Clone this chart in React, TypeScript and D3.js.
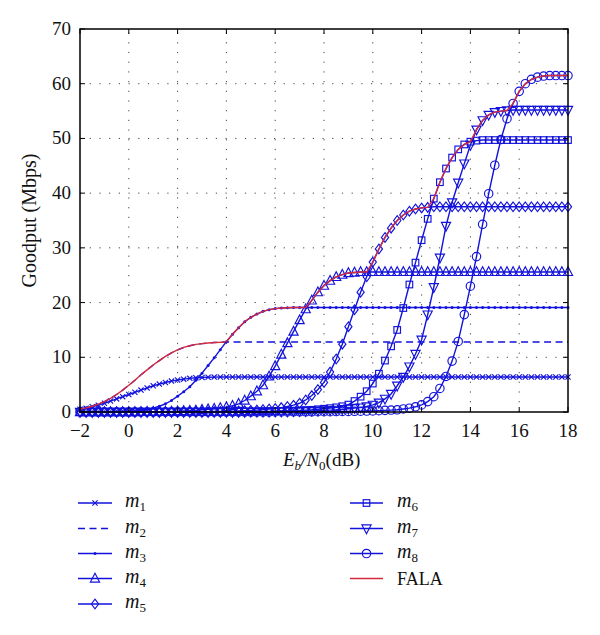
import React from "react";
import * as d3 from "d3";

// SNR grid (dB) shared by every series
const SNR_DB: number[] = d3.range(-2, 18.001, 0.25);

const X_TICKS = [-2, 0, 2, 4, 6, 8, 10, 12, 14, 16, 18];
const Y_TICKS = [0, 10, 20, 30, 40, 50, 60, 70];

const M1 = [
  0.5, 0.7, 0.95, 1.25,
  1.6, 2.0, 2.4, 2.8,
  3.2, 3.6, 4.0, 4.4,
  4.8, 5.1, 5.4, 5.65,
  5.85, 6.0, 6.15, 6.25,
  6.3, 6.35, 6.38, 6.4,
  6.4, 6.4, 6.4, 6.4, 6.4, 6.4, 6.4, 6.4, 6.4, 6.4, 6.4, 6.4, 6.4, 6.4, 6.4, 6.4,
  6.4, 6.4, 6.4, 6.4, 6.4, 6.4, 6.4, 6.4, 6.4, 6.4, 6.4, 6.4, 6.4, 6.4, 6.4, 6.4,
  6.4, 6.4, 6.4, 6.4, 6.4, 6.4, 6.4, 6.4, 6.4, 6.4, 6.4, 6.4, 6.4, 6.4, 6.4, 6.4,
  6.4, 6.4, 6.4, 6.4, 6.4, 6.4, 6.4, 6.4,
  6.4,
];

const M2 = [
  0.5, 0.75, 1.05, 1.45,
  1.9, 2.5, 3.2, 4.0,
  4.9, 5.8, 6.8, 7.7,
  8.6, 9.4, 10.15, 10.8,
  11.35, 11.8, 12.1, 12.35,
  12.5, 12.6, 12.7, 12.75,
  12.8, 12.8, 12.8, 12.8, 12.8, 12.8, 12.8, 12.8, 12.8, 12.8, 12.8, 12.8, 12.8, 12.8, 12.8, 12.8,
  12.8, 12.8, 12.8, 12.8, 12.8, 12.8, 12.8, 12.8, 12.8, 12.8, 12.8, 12.8, 12.8, 12.8, 12.8, 12.8,
  12.8, 12.8, 12.8, 12.8, 12.8, 12.8, 12.8, 12.8, 12.8, 12.8, 12.8, 12.8, 12.8, 12.8, 12.8, 12.8,
  12.8, 12.8, 12.8, 12.8, 12.8, 12.8, 12.8, 12.8,
  12.8,
];

const M3 = [
  0.05, 0.05, 0.05, 0.05,
  0.05, 0.05, 0.1, 0.1,
  0.15, 0.2, 0.3, 0.45,
  0.7, 1.05, 1.5, 2.1,
  2.9, 3.7, 4.6, 5.8,
  7.1, 8.5, 9.9, 11.4,
  12.85, 14.2, 15.4, 16.5,
  17.3, 17.9, 18.4, 18.7,
  18.9, 19.0, 19.05, 19.1,
  19.1, 19.1, 19.1, 19.1, 19.1, 19.1, 19.1, 19.1, 19.1, 19.1, 19.1, 19.1,
  19.1, 19.1, 19.1, 19.1, 19.1, 19.1, 19.1, 19.1, 19.1, 19.1, 19.1, 19.1,
  19.1, 19.1, 19.1, 19.1, 19.1, 19.1, 19.1, 19.1, 19.1, 19.1, 19.1, 19.1,
  19.1, 19.1, 19.1, 19.1, 19.1, 19.1, 19.1, 19.1,
  19.1,
];

const M4 = [
  0, 0, 0, 0,
  0, 0, 0, 0,
  0, 0, 0.02, 0.05,
  0.05, 0.05, 0.1, 0.1,
  0.15, 0.2, 0.25, 0.3,
  0.4, 0.5, 0.6, 0.75,
  0.9, 1.15, 1.5, 2.1,
  2.9, 3.8, 4.9, 6.5,
  8.4, 10.5, 12.6, 14.7,
  16.8, 18.8, 20.4, 21.9,
  23.1, 24.0, 24.7, 25.1,
  25.4, 25.5, 25.6, 25.6,
  25.6, 25.6, 25.6, 25.6, 25.6, 25.6, 25.6, 25.6,
  25.6, 25.6, 25.6, 25.6, 25.6, 25.6, 25.6, 25.6,
  25.6, 25.6, 25.6, 25.6, 25.6, 25.6, 25.6, 25.6,
  25.6, 25.6, 25.6, 25.6, 25.6, 25.6, 25.6, 25.6,
  25.6,
];

const M5 = [
  0, 0, 0, 0,
  0, 0, 0, 0,
  0, 0, 0, 0,
  0, 0, 0.02, 0.02,
  0.02, 0.03, 0.03, 0.04,
  0.05, 0.05, 0.1, 0.1,
  0.15, 0.15, 0.2, 0.25,
  0.3, 0.35, 0.45, 0.55,
  0.65, 0.8, 1.0, 1.25,
  1.6, 2.2, 3.0, 4.1,
  5.4, 7.3, 9.7, 12.4,
  15.6, 18.7, 21.9, 24.7,
  27.4, 29.8, 31.9, 33.6,
  35.0, 36.0, 36.7, 37.1,
  37.3, 37.4, 37.5, 37.5,
  37.5, 37.5, 37.5, 37.5, 37.5, 37.5, 37.5, 37.5, 37.5, 37.5,
  37.5, 37.5, 37.5, 37.5, 37.5, 37.5, 37.5, 37.5, 37.5, 37.5,
  37.5,
];

const M6 = [
  0, 0, 0, 0,
  0, 0, 0, 0,
  0, 0, 0, 0,
  0, 0, 0, 0,
  0, 0, 0, 0,
  0, 0, 0, 0,
  0.02, 0.03, 0.04, 0.05,
  0.06, 0.08, 0.1, 0.12,
  0.15, 0.18, 0.2, 0.25,
  0.3, 0.35, 0.4, 0.5,
  0.6, 0.7, 0.85, 1.05,
  1.35, 2.0, 2.8, 3.8,
  5.2, 7.0, 9.4, 12.0,
  15.0, 19.0, 23.3, 27.3,
  31.4, 35.3, 39.0, 42.0,
  44.5, 46.5, 48.0, 48.9,
  49.4, 49.6, 49.7, 49.7,
  49.7, 49.7, 49.7, 49.7, 49.7, 49.7,
  49.7, 49.7, 49.7, 49.7, 49.7, 49.7,
  49.7,
];

const M7 = [
  0, 0, 0, 0,
  0, 0, 0, 0,
  0, 0, 0, 0,
  0, 0, 0, 0,
  0, 0, 0, 0,
  0, 0, 0, 0,
  0, 0, 0, 0,
  0.02, 0.03, 0.04, 0.05,
  0.06, 0.08, 0.1, 0.12,
  0.15, 0.18, 0.2, 0.25,
  0.3, 0.35, 0.4, 0.5,
  0.6, 0.7, 0.8, 1.0,
  1.3, 1.7, 2.4, 3.3,
  4.8, 6.4, 8.3, 10.6,
  13.2, 17.8, 22.8, 28.2,
  34.0, 38.3, 41.9, 45.4,
  48.8, 51.6, 53.3, 54.3,
  54.8, 55.0, 55.1, 55.2,
  55.2, 55.2, 55.2, 55.2, 55.2, 55.2, 55.2, 55.2,
  55.2,
];

const M8 = [
  0, 0, 0, 0,
  0, 0, 0, 0,
  0, 0, 0, 0,
  0, 0, 0, 0,
  0, 0, 0, 0,
  0, 0, 0, 0,
  0, 0, 0, 0,
  0, 0, 0, 0,
  0.01, 0.02, 0.02, 0.03,
  0.03, 0.04, 0.04, 0.05,
  0.05, 0.06, 0.08, 0.1,
  0.1, 0.12, 0.15, 0.18,
  0.2, 0.25, 0.3, 0.35,
  0.4, 0.55, 0.7, 0.95,
  1.3, 1.9, 2.8, 4.3,
  6.5, 9.3, 12.9, 17.8,
  23.0, 28.4, 34.3, 39.9,
  45.1, 49.8, 53.6, 56.4,
  58.6, 60.0, 60.8, 61.2,
  61.4, 61.5, 61.5, 61.5,
  61.5,
];

const FALA = [
  0.5, 0.75, 1.05, 1.45,
  1.9, 2.5, 3.2, 4.0,
  4.9, 5.8, 6.8, 7.7,
  8.6, 9.4, 10.15, 10.8,
  11.35, 11.8, 12.1, 12.35,
  12.5, 12.6, 12.7, 12.75,
  12.85, 14.2, 15.4, 16.5,
  17.3, 17.9, 18.4, 18.7,
  18.9, 19.0, 19.05, 19.1,
  19.1, 19.1, 20.4, 21.9,
  23.1, 24.0, 24.7, 25.1,
  25.4, 25.5, 25.6, 25.6,
  27.4, 29.8, 31.9, 33.6,
  35.0, 36.0, 36.7, 37.1,
  37.3, 37.4, 39.0, 42.0,
  44.5, 46.5, 48.0, 48.9,
  49.4, 51.6, 53.3, 54.3,
  54.8, 55.0, 55.1, 56.4,
  58.6, 60.0, 60.8, 61.2,
  61.4, 61.5, 61.5, 61.5,
  61.5,
];

type MarkerKind = "x" | "none" | "dot" | "tri" | "diamond" | "square" | "tridown" | "circle";

const SERIES: { name: string; sub: string; values: number[]; marker: MarkerKind; dashed: boolean }[] = [
  { name: "m", sub: "1", values: M1, marker: "x", dashed: false },
  { name: "m", sub: "2", values: M2, marker: "none", dashed: true },
  { name: "m", sub: "3", values: M3, marker: "dot", dashed: false },
  { name: "m", sub: "4", values: M4, marker: "tri", dashed: false },
  { name: "m", sub: "5", values: M5, marker: "diamond", dashed: false },
  { name: "m", sub: "6", values: M6, marker: "square", dashed: false },
  { name: "m", sub: "7", values: M7, marker: "tridown", dashed: false },
  { name: "m", sub: "8", values: M8, marker: "circle", dashed: false },
];

const BLUE = "#1212dc";
const RED = "#d42a3c";
const FONT = "'Liberation Serif', 'DejaVu Serif', serif";

function Marker({ kind, cx, cy }: { kind: MarkerKind; cx: number; cy: number }) {
  const sw = 1.15;
  switch (kind) {
    case "x":
      return (
        <path
          d={`M${cx - 2.6},${cy - 2.6}L${cx + 2.6},${cy + 2.6}M${cx - 2.6},${cy + 2.6}L${cx + 2.6},${cy - 2.6}`}
          stroke={BLUE}
          strokeWidth={sw}
          fill="none"
        />
      );
    case "dot":
      return <circle cx={cx} cy={cy} r={1.5} fill={BLUE} />;
    case "tri":
      return (
        <path
          d={`M${cx},${cy - 5.2}L${cx + 4.6},${cy + 3.6}L${cx - 4.6},${cy + 3.6}Z`}
          stroke={BLUE}
          strokeWidth={sw}
          fill="none"
        />
      );
    case "tridown":
      return (
        <path
          d={`M${cx},${cy + 5.2}L${cx + 4.6},${cy - 3.6}L${cx - 4.6},${cy - 3.6}Z`}
          stroke={BLUE}
          strokeWidth={sw}
          fill="none"
        />
      );
    case "diamond":
      return (
        <path
          d={`M${cx},${cy - 4.8}L${cx + 3.6},${cy}L${cx},${cy + 4.8}L${cx - 3.6},${cy}Z`}
          stroke={BLUE}
          strokeWidth={sw}
          fill="none"
        />
      );
    case "square":
      return <rect x={cx - 3.3} y={cy - 3.3} width={6.6} height={6.6} stroke={BLUE} strokeWidth={sw} fill="none" />;
    case "circle":
      return <circle cx={cx} cy={cy} r={4.2} stroke={BLUE} strokeWidth={sw} fill="none" />;
    default:
      return null;
  }
}

export default function App() {
  const W = 600;
  const H = 635;
  const left = 80;
  const right = 568;
  const top = 29;
  const bottom = 412;

  const x = d3.scaleLinear().domain([-2, 18]).range([left, right]);
  const y = d3.scaleLinear().domain([0, 70]).range([bottom, top]);

  const line = (vals: number[]) =>
    d3
      .line<number>()
      .x((_, i) => x(SNR_DB[i]))
      .y((v) => y(v))(vals) || "";

  const fmt = (v: number) => (v < 0 ? "\u2212" + Math.abs(v) : String(v));

  const legendCol1 = SERIES.slice(0, 5);
  const legendCol2 = SERIES.slice(5);
  const rows = [503, 528.5, 553.5, 578.5, 604];

  return (
    <div style={{ position: "absolute", left: 0, top: 0 }}>
      <svg width={W} height={H} style={{ display: "block", background: "#fff" }}>
        <rect x={0} y={0} width={W} height={H} fill="#fff" />
        {/* grid */}
        <g stroke="#444" strokeWidth={1} strokeDasharray="1.2,8.5">
          {X_TICKS.filter((t) => t > -2 && t < 18).map((t) => (
            <line key={"gx" + t} x1={x(t)} x2={x(t)} y1={bottom} y2={top} />
          ))}
          {Y_TICKS.filter((t) => t > 0 && t < 70).map((t) => (
            <line key={"gy" + t} x1={left} x2={right} y1={y(t)} y2={y(t)} />
          ))}
        </g>

        {/* series */}
        {SERIES.map((s) => (
          <g key={s.name + s.sub}>
            <path
              d={line(s.values)}
              fill="none"
              stroke={BLUE}
              strokeWidth={1.4}
              strokeDasharray={s.dashed ? "7,4.5" : undefined}
            />
            {s.marker !== "none" &&
              s.values.map((v, i) => <Marker key={i} kind={s.marker} cx={x(SNR_DB[i])} cy={y(v)} />)}
          </g>
        ))}
        <path d={line(FALA)} fill="none" stroke={RED} strokeWidth={1.4} />

        {/* axes box */}
        <rect x={left} y={top} width={right - left} height={bottom - top} fill="none" stroke="#000" strokeWidth={1.5} />
        <g stroke="#000" strokeWidth={1}>
          {X_TICKS.map((t) => (
            <g key={"tx" + t}>
              <line x1={x(t)} x2={x(t)} y1={bottom} y2={bottom - 5} />
              <line x1={x(t)} x2={x(t)} y1={top} y2={top + 5} />
            </g>
          ))}
          {Y_TICKS.map((t) => (
            <g key={"ty" + t}>
              <line x1={left} x2={left + 5} y1={y(t)} y2={y(t)} />
              <line x1={right} x2={right - 5} y1={y(t)} y2={y(t)} />
            </g>
          ))}
        </g>

        {/* tick labels */}
        <g fontFamily={FONT} fontSize={19} fill="#111">
          {X_TICKS.map((t) => (
            <text key={"lx" + t} x={x(t)} y={437} textAnchor="middle">
              {fmt(t)}
            </text>
          ))}
          {Y_TICKS.map((t) => (
            <text key={"ly" + t} x={71} y={y(t) + 6} textAnchor="end">
              {t}
            </text>
          ))}
        </g>

        {/* axis labels */}
        <text
          fontFamily={FONT}
          fontSize={20}
          fill="#111"
          textAnchor="middle"
          transform={`translate(36,${(top + bottom) / 2}) rotate(-90)`}
        >
          Goodput (Mbps)
        </text>
        <text fontFamily={FONT} fontSize={19} fill="#111" x={283} y={466}>
          <tspan fontStyle="italic">E</tspan>
          <tspan fontStyle="italic" fontSize={13} dy={4}>b</tspan>
          <tspan dy={-4} fontStyle="italic">/N</tspan>
          <tspan fontSize={13} dy={4}>0</tspan>
          <tspan dy={-4}>(dB)</tspan>
        </text>

        {/* legend */}
        {[legendCol1, legendCol2].map((col, ci) => {
          const x0 = ci === 0 ? 78 : 350;
          const x1 = ci === 0 ? 112 : 383;
          const tx = ci === 0 ? 125 : 397;
          return (
            <g key={"lc" + ci}>
              {col.map((s, ri) => {
                const cy = rows[ri];
                return (
                  <g key={s.sub}>
                    <line
                      x1={x0}
                      x2={x1}
                      y1={cy}
                      y2={cy}
                      stroke={BLUE}
                      strokeWidth={1.4}
                      strokeDasharray={s.dashed ? "7,4.5" : undefined}
                    />
                    <Marker kind={s.marker} cx={(x0 + x1) / 2} cy={cy} />
                    <text x={tx} y={cy + 4} fontFamily={FONT} fontSize={20} fill="#111">
                      <tspan fontStyle="italic">{s.name}</tspan>
                      <tspan fontSize={13} dy={4}>{s.sub}</tspan>
                    </text>
                  </g>
                );
              })}
              {ci === 1 && (
                <g>
                  <line x1={x0} x2={x1} y1={rows[3]} y2={rows[3]} stroke={RED} strokeWidth={1.4} />
                  <text x={tx} y={rows[3] + 6} fontFamily={FONT} fontSize={18} fill="#111">
                    FALA
                  </text>
                </g>
              )}
            </g>
          );
        })}
      </svg>
    </div>
  );
}
